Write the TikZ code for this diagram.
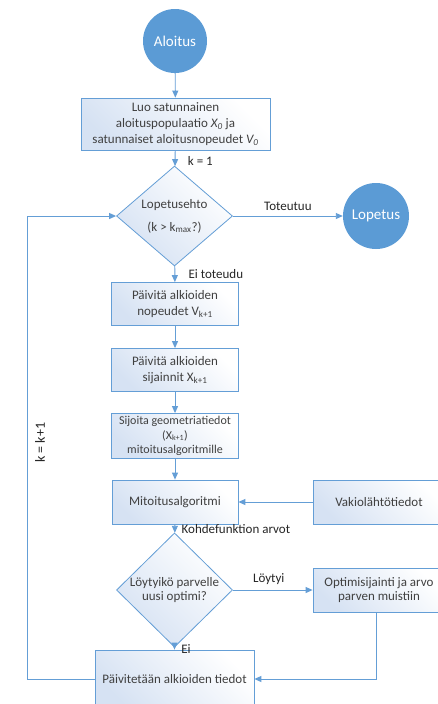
\documentclass[tikz,border=0pt]{standalone}
\usepackage{fontspec}
\setmainfont{Carlito}
\usetikzlibrary{shapes.geometric,arrows.meta}
\definecolor{fcblue}{RGB}{91,155,213}
\definecolor{fcline}{RGB}{100,158,214}
\definecolor{fcshade}{RGB}{214,226,243}
\definecolor{fctext}{RGB}{64,64,64}
\definecolor{fclabel}{RGB}{38,38,38}
\begin{document}
\begin{tikzpicture}[x=1pt,y=-1pt,
  font=\fontsize{13}{16}\selectfont,
  arr/.style={draw=fcline, line width=0.9pt, -{Triangle[length=7pt,width=6pt]}},
  startend/.style={circle, fill=fcblue, text=white, minimum size=64pt, inner sep=0pt,
    font=\fontsize{15}{18}\selectfont},
  procbox/.style={rectangle, draw=fcline, line width=0.8pt, top color=white,
    bottom color=fcshade, shading angle=-45, align=center, inner sep=2pt, text=fctext},
  decision/.style={diamond, draw=fcline, line width=0.8pt, top color=white,
    bottom color=fcshade, shading angle=-45, align=center, inner sep=0pt, text=fctext,
    minimum width=116pt, minimum height=86pt},
  lbl/.style={text=fclabel, font=\fontsize{13}{16}\selectfont}]

\useasboundingbox (0,0) rectangle (437,704);
\fill[white] (0,0) rectangle (437,704);

% nodes
\node[startend] (start) at (175,41) {Aloitus};
\node[procbox, minimum width=189pt, minimum height=52pt] (init) at (175.5,124)
  {Luo satunnainen\\aloituspopulaatio \textit{X\textsubscript{0}} ja\\satunnaiset aloitusnopeudet \textit{V\textsubscript{0}}};
\node[decision] (stop) at (174.5,216) {Lopetusehto\\[7pt](k > k\textsubscript{max}?)};
\node[startend, minimum size=66pt] (end) at (376,216) {Lopetus};
\node[procbox, minimum width=127pt, minimum height=43pt] (vel) at (175,304)
  {Päivitä alkioiden\\nopeudet V\textsubscript{k+1}};
\node[procbox, minimum width=127pt, minimum height=43pt] (pos) at (175,370)
  {Päivitä alkioiden\\sijainnit X\textsubscript{k+1}};
\node[procbox, minimum width=127pt, minimum height=45pt, font=\fontsize{12}{14.5}\selectfont] (geo) at (175,436)
  {Sijoita geometriatiedot\\(X\textsubscript{k+1})\\mitoitusalgoritmille};
\node[procbox, minimum width=126pt, minimum height=44pt] (mito) at (175,502) {Mitoitusalgoritmi};
\node[procbox, minimum width=132pt, minimum height=44pt] (vakio) at (379,502) {Vakiolähtötiedot};
\node[decision, font=\fontsize{13}{14}\selectfont] (opt) at (174.5,590) {Löytyikö parvelle\\uusi optimi?};
\node[procbox, minimum width=132pt, minimum height=44pt, font=\fontsize{13}{14}\selectfont] (best) at (379,590)
  {Optimisijainti ja arvo\\parven muistiin};
\node[procbox, minimum width=159pt, minimum height=58pt] (upd) at (174.5,679) {Päivitetään alkioiden tiedot};

\coordinate (lb) at (27,679);
\coordinate (lt) at (27,216);
\path (lb) -- (lt) coordinate[pos=0.51] (km);

% connectors
\draw[arr] (start) -- (init);
\draw[arr] (init) -- node[lbl, anchor=west, xshift=9pt, yshift=-3pt] {k = 1} (stop);
\draw[arr] (stop) -- node[lbl, above, yshift=2pt] {Toteutuu} (end);
\draw[arr] (stop) -- node[lbl, anchor=west, xshift=10pt] {Ei toteudu} (vel);
\draw[arr] (vel) -- (pos);
\draw[arr] (pos) -- (geo);
\draw[arr] (geo) -- (mito);
\draw[arr] (vakio) -- (mito);
\draw[arr] (mito) -- node[lbl, anchor=west, xshift=3pt] {Kohdefunktion arvot} (opt);
\draw[arr] (opt) -- node[lbl, above, yshift=2pt, xshift=-4pt] {Löytyi} (best);
\draw[arr] (opt) -- node[lbl, anchor=west, xshift=3pt] {Ei} (upd);
\draw[arr] ([xshift=-3pt]best.south) |- (upd.east);
\draw[arr] (upd.west) -- (lb) -- (lt) -- (stop.west);
\node[lbl, rotate=90, font=\fontsize{14}{16}\selectfont] (kk) at ([xshift=13pt]km) {k = k+1};
\end{tikzpicture}
\end{document}
